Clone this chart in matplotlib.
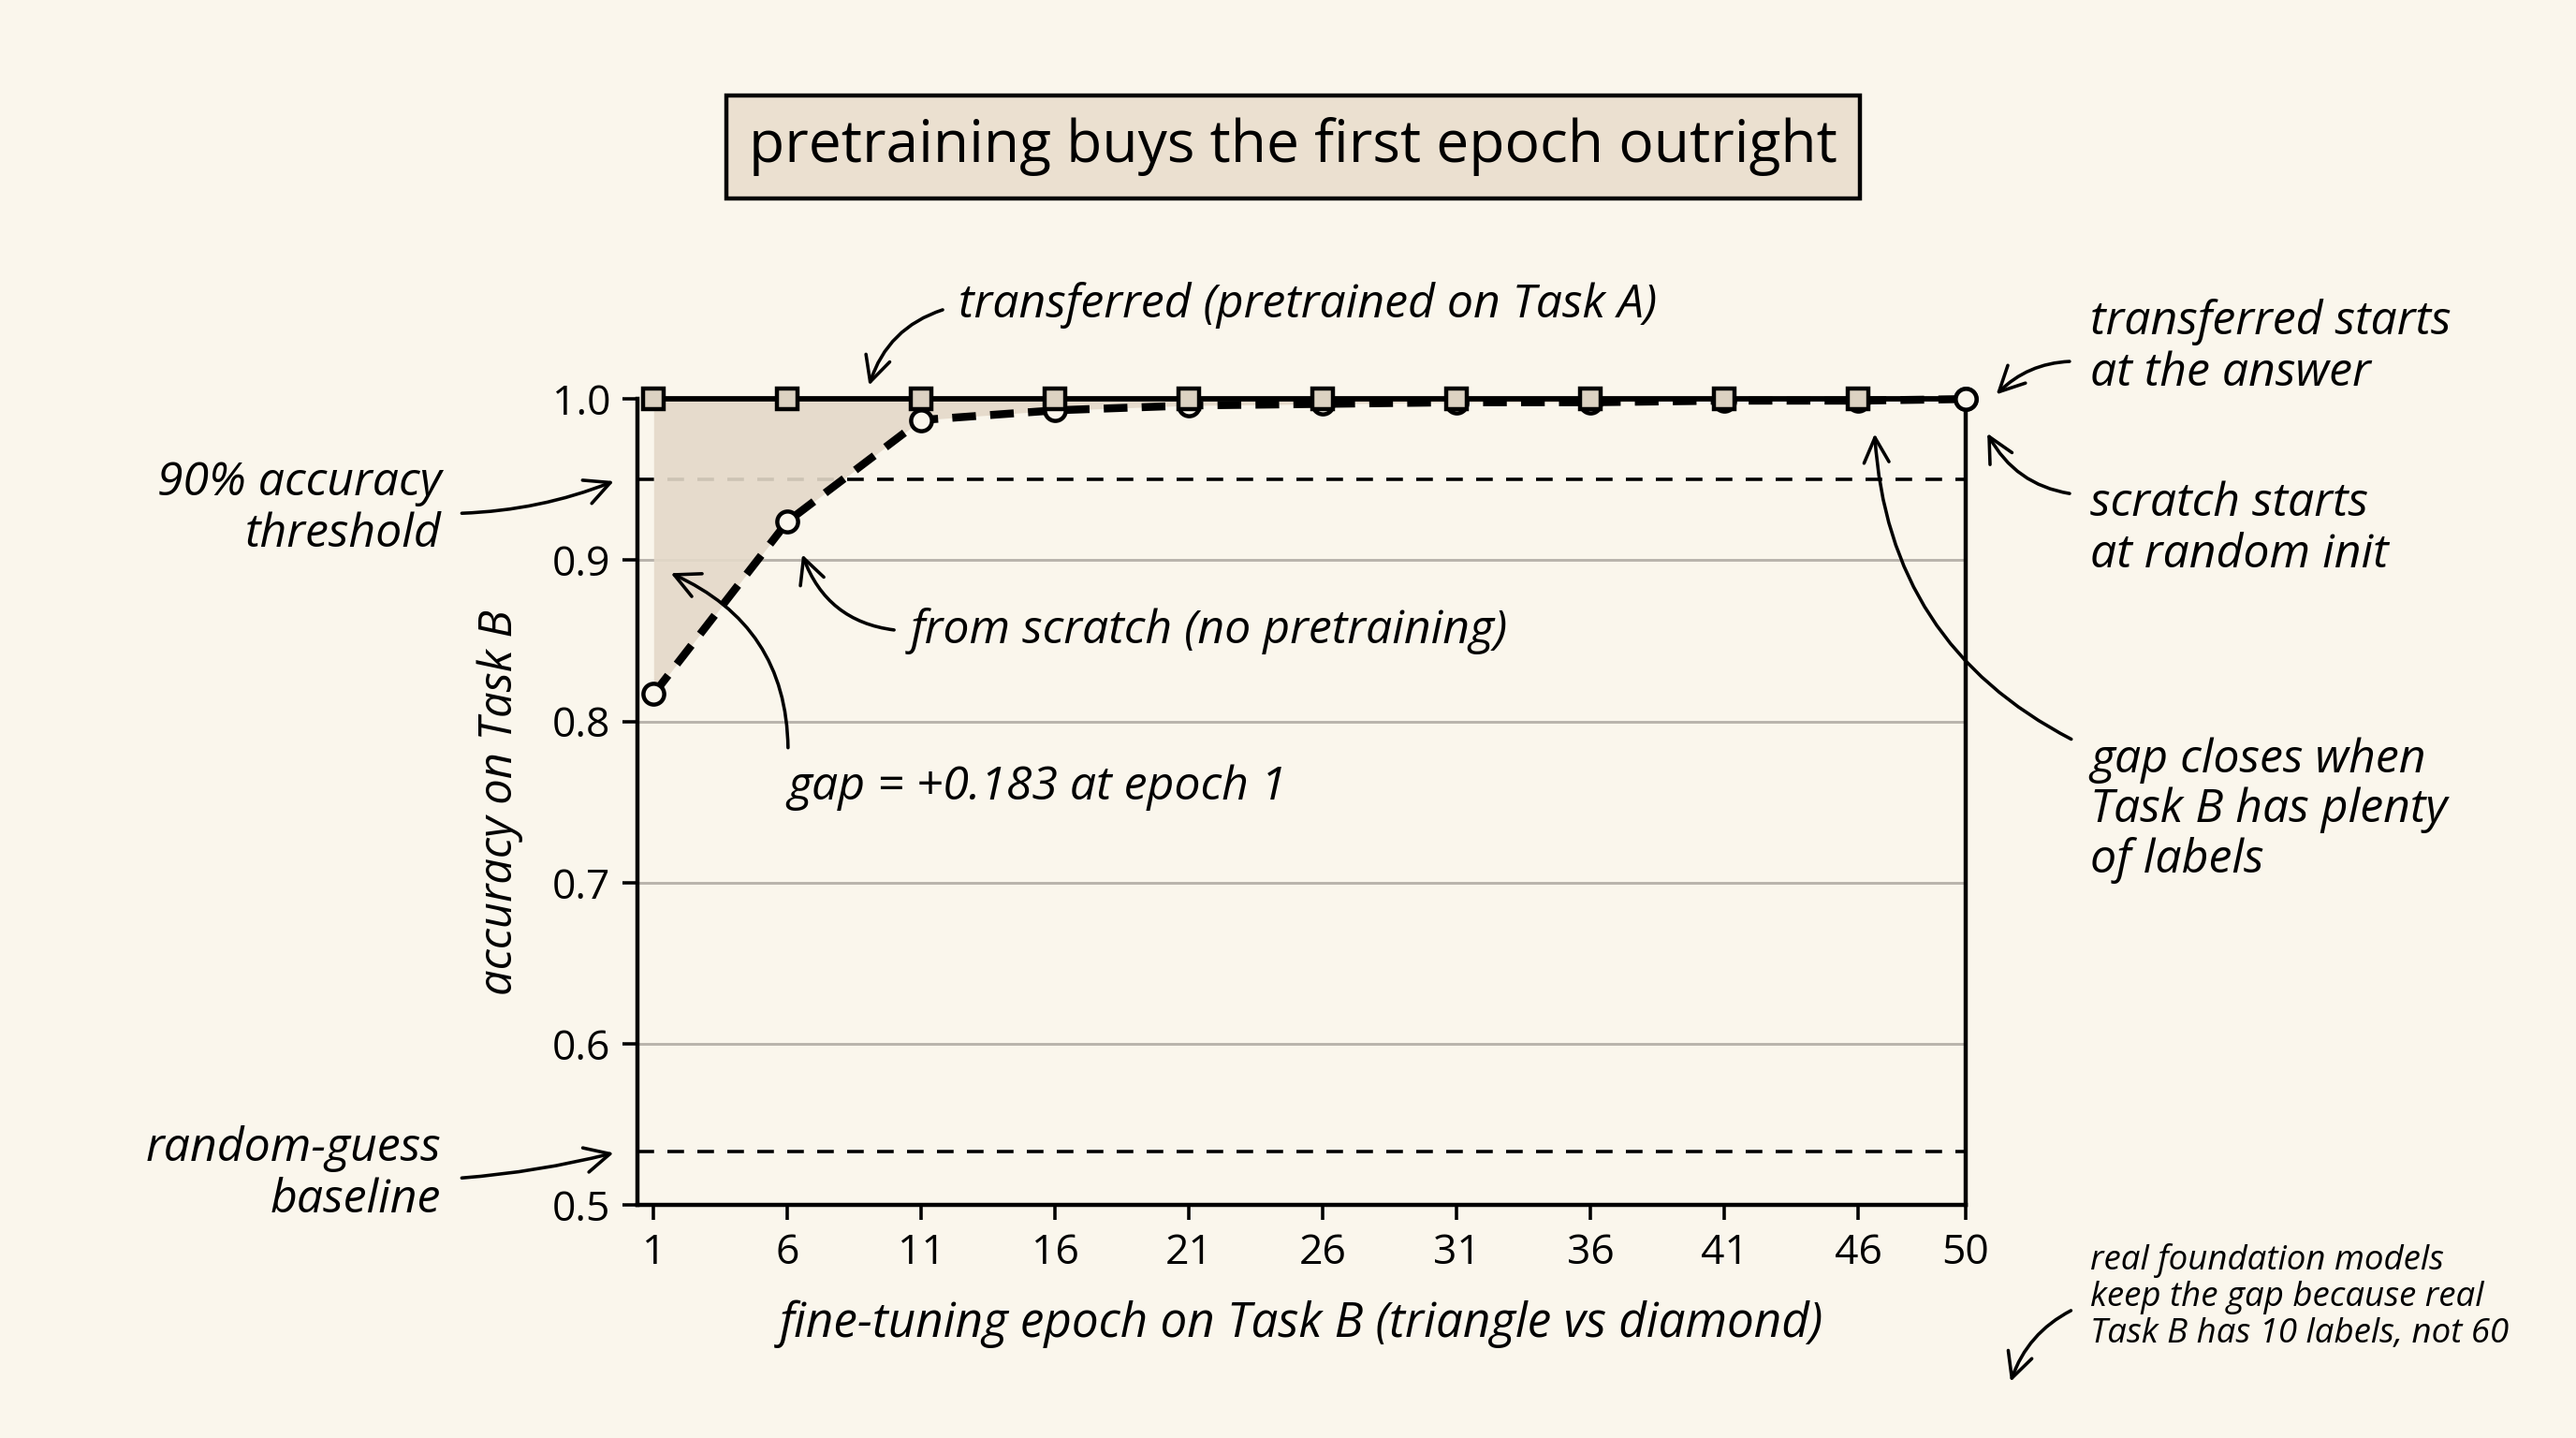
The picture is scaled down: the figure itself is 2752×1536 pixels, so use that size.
import matplotlib
matplotlib.use("Agg")
import matplotlib.pyplot as plt

# data
epochs = [1, 6, 11, 16, 21, 26, 31, 36, 41, 46, 50]
transferred = [1.0, 1.0, 1.0, 1.0, 1.0, 1.0, 1.0, 1.0, 1.0, 1.0, 1.0]
scratch = [0.817, 0.924, 0.987, 0.993, 0.996, 0.997, 0.998, 0.998, 0.999, 0.999, 1.0]
threshold = 0.95
random_guess = 0.533
y_ticks = [0.5, 0.6, 0.7, 0.8, 0.9, 1.0]
x_ticks = [1, 6, 11, 16, 21, 26, 31, 36, 41, 46, 50]

BG = "#faf6ec"
FILL = "#e4d9c9"
SQUARE = "#dcd2c2"
GRID = "#b8b3ab"
FONT = "Open Sans"

plt.rcParams["font.family"] = [FONT, "DejaVu Sans"]

fig = plt.figure(figsize=(17.2, 9.6), dpi=160, facecolor=BG)
ax = fig.add_axes([0.2475, 0.162, 0.5155, 0.5605])
ax.set_facecolor(BG)

ax.set_xlim(0.4, 50)
ax.set_ylim(0.5, 1.0)

for g in [0.6, 0.7, 0.8, 0.9]:
    ax.axhline(g, color=GRID, lw=1.3, zorder=1)
ax.axhline(threshold, color="black", lw=1.6, ls=(0, (5, 4)), zorder=2)
ax.axhline(random_guess, color="black", lw=1.6, ls=(0, (5, 4)), zorder=2)

ax.fill_between(epochs, scratch, transferred, color=FILL, alpha=0.9, lw=0, zorder=2)

ax.plot(epochs, scratch, color="black", lw=3.8, ls=(0, (3.0, 1.8)), marker="o",
        markersize=10, markerfacecolor=BG, markeredgecolor="black",
        markeredgewidth=2.0, zorder=4, clip_on=False)
ax.plot(epochs, transferred, color="black", lw=2.6, marker="s", markevery=slice(0, 10),
        markersize=10, markerfacecolor=SQUARE, markeredgecolor="black",
        markeredgewidth=2.0, zorder=5, clip_on=False)
# the last scratch point sits on top at epoch 50
ax.plot(epochs[-1:], scratch[-1:], marker="o", markersize=10, markerfacecolor=BG,
        markeredgecolor="black", markeredgewidth=2.0, ls="none", zorder=6, clip_on=False)

for side in ["left", "bottom", "right"]:
    ax.spines[side].set_linewidth(2.0)
ax.spines["top"].set_visible(False)

ax.set_xticks(x_ticks)
ax.set_xticklabels([str(t) for t in x_ticks])
ax.set_yticks(y_ticks)
ax.set_yticklabels([f"{t:.1f}" for t in y_ticks])
ax.tick_params(axis="both", length=7, width=1.6, labelsize=20, pad=6)

ax.set_xlabel("fine-tuning epoch on Task B (triangle vs diamond)", fontsize=23,
              style="italic")
ax.set_ylabel("accuracy on Task B", fontsize=22, style="italic")
ax.xaxis.set_label_coords(0.5, -0.118)
ax.yaxis.set_label_coords(-0.086, 0.5)

fig.text(0.502, 0.898, "pretraining buys the first epoch outright", fontsize=28,
         ha="center", va="center",
         bbox=dict(boxstyle="square,pad=0.38", facecolor="#ebe0d0", edgecolor="black", lw=2.0))

note = dict(fontsize=22.5, style="italic")
arrow = dict(arrowstyle="->", color="black", lw=1.6, mutation_scale=30)
ytrans = ax.get_yaxis_transform()

ax.annotate("transferred (pretrained on Task A)", xy=(9.0, 1.006), xytext=(12.4, 1.058),
            ha="left", va="center", annotation_clip=False,
            arrowprops=dict(arrow, connectionstyle="arc3,rad=0.3", relpos=(0.0, 0.5),
                            shrinkA=6, shrinkB=2), **note)

ax.annotate("from scratch (no pretraining)", xy=(6.5, 0.906), xytext=(10.6, 0.856),
            ha="left", va="center",
            arrowprops=dict(arrow, connectionstyle="arc3,rad=-0.35", relpos=(0.0, 0.5),
                            shrinkA=6, shrinkB=2), **note)

ax.annotate("gap = +0.183 at epoch 1", xy=(1.5, 0.893), xytext=(6.0, 0.759),
            ha="left", va="center",
            arrowprops=dict(arrow, connectionstyle="arc3,rad=0.35", relpos=(0.0, 0.9),
                            shrinkA=6, shrinkB=2), **note)

ax.annotate("90% accuracy\nthreshold", xy=(-0.015, threshold), xycoords=ytrans,
            xytext=(-0.148, 0.932), textcoords=ytrans, ha="right", va="center",
            linespacing=1.15, annotation_clip=False,
            arrowprops=dict(arrow, connectionstyle="arc3,rad=0.1", relpos=(1.0, 0.45),
                            shrinkA=8, shrinkB=2), **note)

ax.annotate("random-guess\nbaseline", xy=(-0.015, random_guess), xycoords=ytrans,
            xytext=(-0.148, 0.519), textcoords=ytrans, ha="right", va="center",
            linespacing=1.15, annotation_clip=False,
            arrowprops=dict(arrow, connectionstyle="arc3,rad=0.05", relpos=(1.0, 0.45),
                            shrinkA=8, shrinkB=2), **note)

ax.annotate("transferred starts\nat the answer", xy=(1.021, 1.001), xycoords=ytrans,
            xytext=(1.094, 1.032), textcoords=ytrans, ha="left", va="center",
            linespacing=1.15, annotation_clip=False,
            arrowprops=dict(arrow, connectionstyle="arc3,rad=0.25", relpos=(0.0, 0.35),
                            shrinkA=8, shrinkB=2), **note)

ax.annotate("scratch starts\nat random init", xy=(1.015, 0.981), xycoords=ytrans,
            xytext=(1.094, 0.919), textcoords=ytrans, ha="left", va="center",
            linespacing=1.15, annotation_clip=False,
            arrowprops=dict(arrow, connectionstyle="arc3,rad=-0.3", relpos=(0.0, 0.85),
                            shrinkA=8, shrinkB=2), **note)

ax.annotate("gap closes when\nTask B has plenty\nof labels", xy=(46.6, 0.981),
            xytext=(1.094, 0.745), textcoords=ytrans, ha="left", va="center",
            linespacing=1.1, annotation_clip=False,
            arrowprops=dict(arrow, connectionstyle="arc3,rad=-0.3", relpos=(0.0, 0.92),
                            shrinkA=8, shrinkB=2), **note)

ax.annotate("real foundation models\nkeep the gap because real\nTask B has 10 labels, not 60",
            xy=(1.033, 0.388), xycoords=ytrans, xytext=(1.094, 0.443), textcoords=ytrans,
            ha="left", va="center", linespacing=1.1, annotation_clip=False, fontsize=16.5,
            style="italic",
            arrowprops=dict(arrow, connectionstyle="arc3,rad=0.25", relpos=(0.0, 0.45),
                            shrinkA=8, shrinkB=2))

fig.savefig("out.png", dpi=160, facecolor=BG)
